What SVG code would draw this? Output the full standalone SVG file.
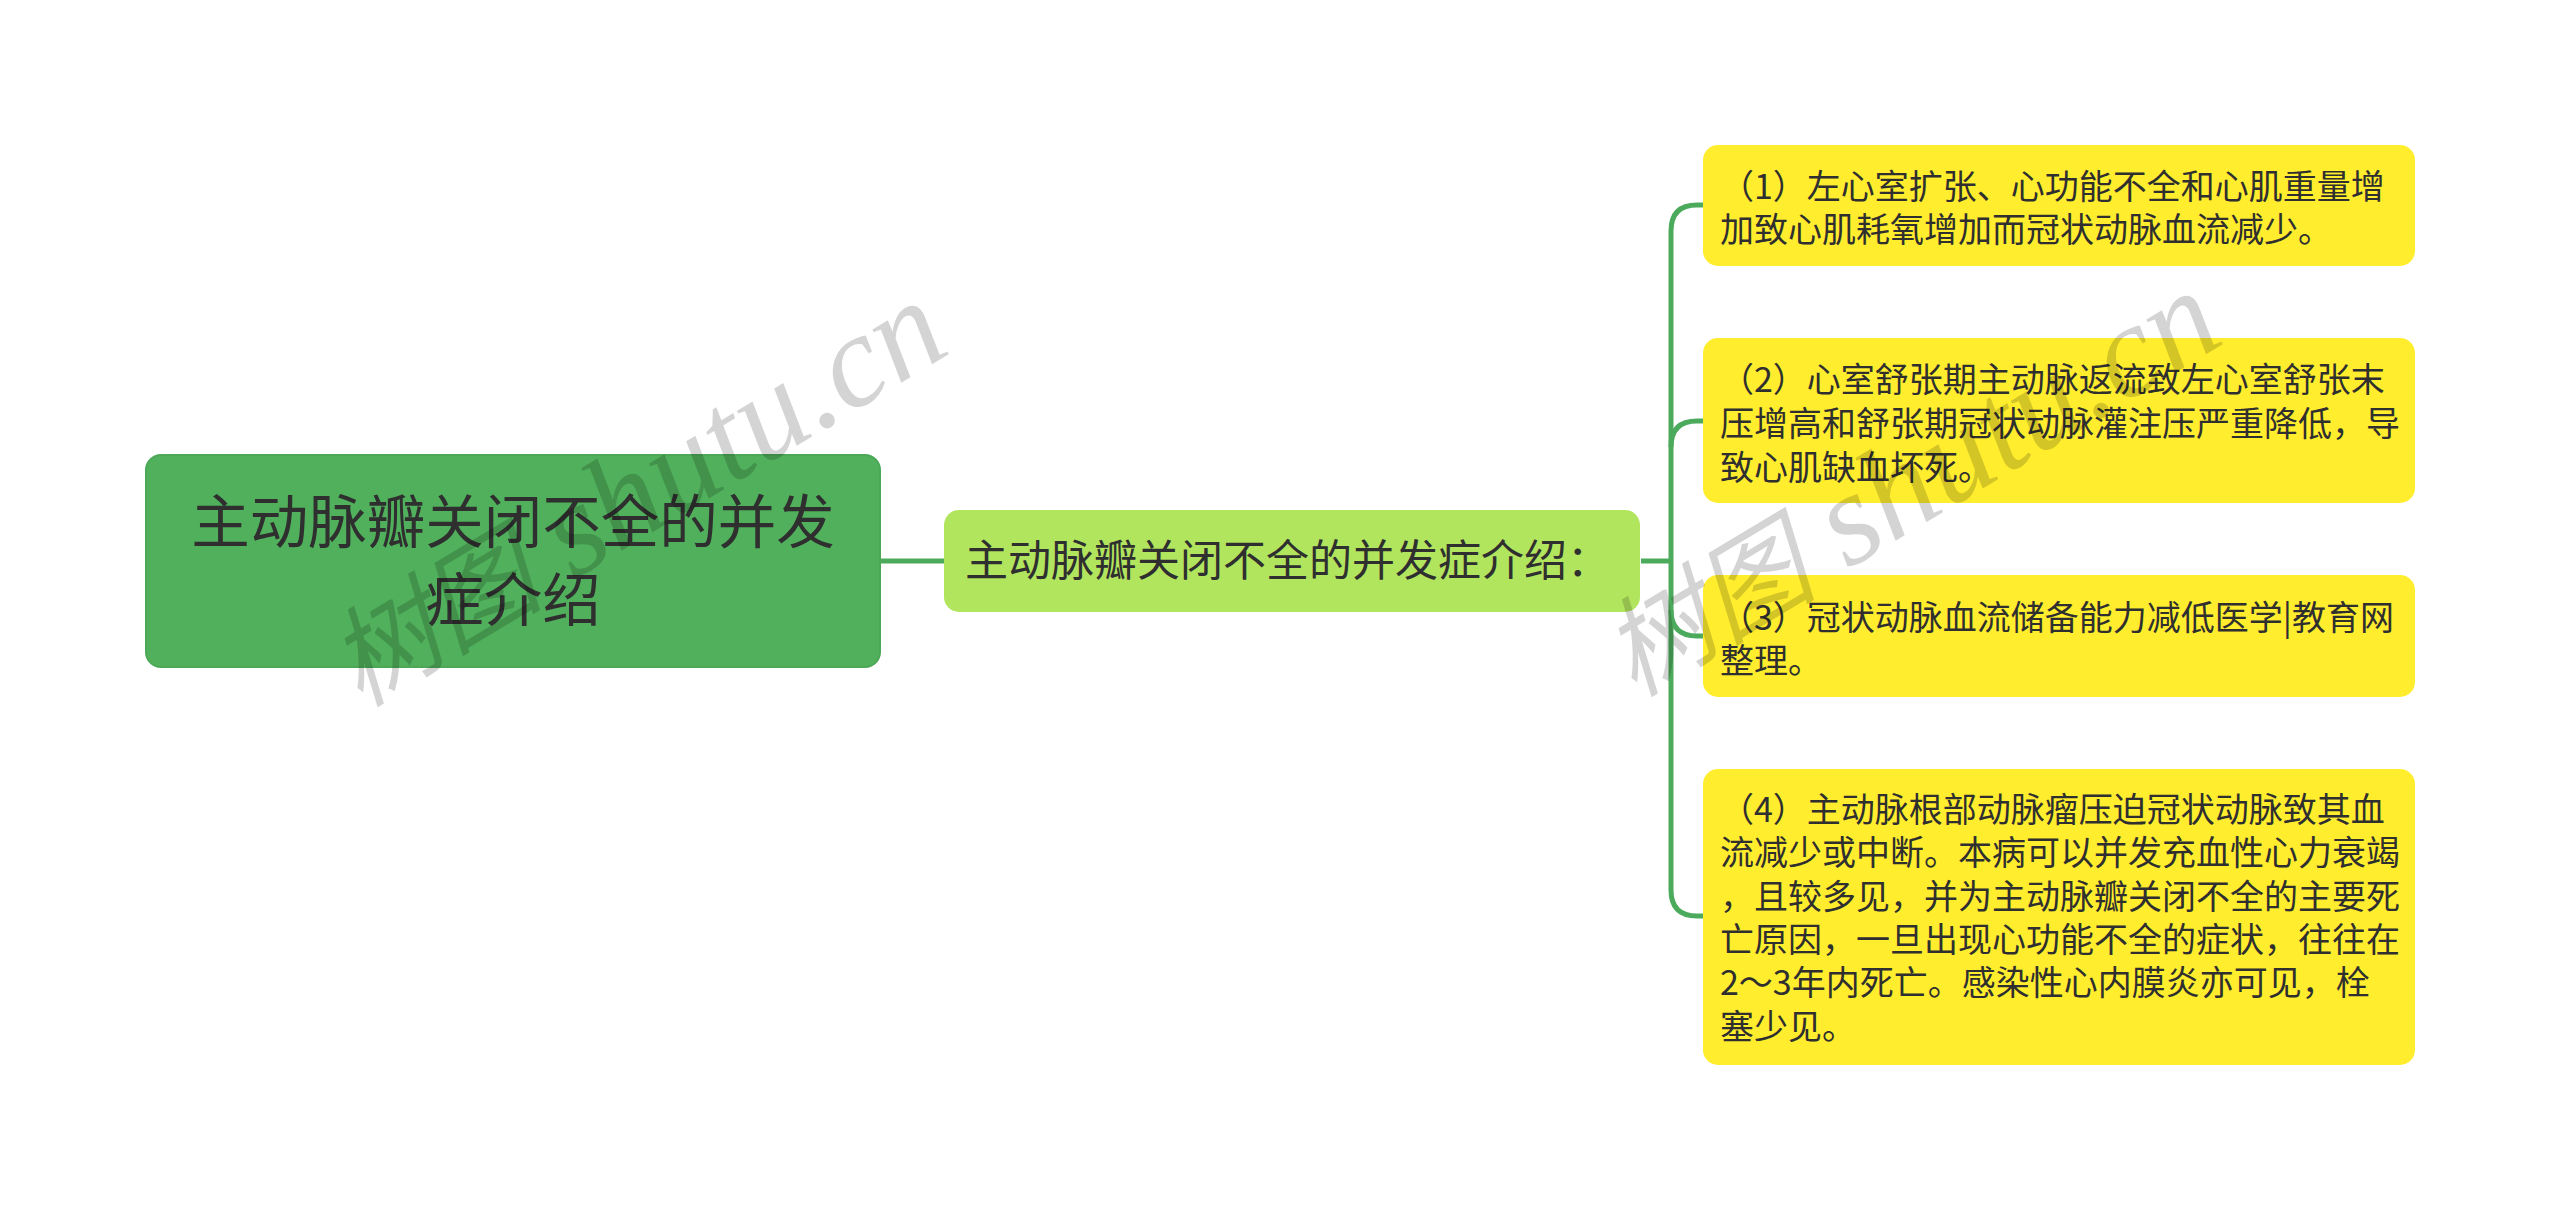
<svg xmlns="http://www.w3.org/2000/svg" width="2560" height="1210" viewBox="0 0 2560 1210">
<style>
text{font-family:"Noto Sans CJK SC","Noto Sans",sans-serif;fill:#2f2f2f}
.root{fill:#50B05C;stroke:#4CA857;stroke-width:2}
.sub{fill:#B2E55E}
.leaf{fill:#FFED2E}
.con{fill:none;stroke:#4CAA5C;stroke-width:5}
.t1{font-size:58.5px}
.t2{font-size:43px}
.t3{font-size:34px}
.wm{font-family:"Liberation Serif","Noto Sans CJK SC",serif;font-style:italic;font-size:132px;fill:#000;fill-opacity:.17}
.wm .cjk{font-size:108px}
</style>
<rect width="2560" height="1210" fill="#fff"/>
<g id="connectors">
<path class="con" d="M881 561H944"/>
<path class="con" d="M1641 561H1671"/>
<path class="con" d="M1703 205H1697Q1671 205 1671 231V890Q1671 916 1697 916H1703"/>
<path class="con" d="M1703 421H1697Q1671 421 1671 447"/>
<path class="con" d="M1703 636H1697Q1671 636 1671 610"/>
</g>
<g id="root"><rect class="root" x="146" y="455" width="734" height="212" rx="15"/>
<text class="t1" x="513" y="543" text-anchor="middle">主动脉瓣关闭不全的并发</text>
<text class="t1" x="513" y="621" text-anchor="middle">症介绍</text></g>
<g id="sub"><rect class="sub" x="944" y="510" width="696" height="102" rx="15"/>
<text class="t2" x="965" y="576">主动脉瓣关闭不全的并发症介绍：</text></g>
<g id="leaf1"><rect class="leaf" x="1703" y="145" width="712" height="121" rx="15"/>
<text class="t3" x="1720" y="199">（1）左心室扩张、心功能不全和心肌重量增</text>
<text class="t3" x="1720" y="242">加致心肌耗氧增加而冠状动脉血流减少。</text></g>
<g id="leaf2"><rect class="leaf" x="1703" y="338" width="712" height="165" rx="15"/>
<text class="t3" x="1720" y="392">（2）心室舒张期主动脉返流致左心室舒张末</text>
<text class="t3" x="1720" y="436">压增高和舒张期冠状动脉灌注压严重降低，导</text>
<text class="t3" x="1720" y="480">致心肌缺血坏死。</text></g>
<g id="leaf3"><rect class="leaf" x="1703" y="575" width="712" height="122" rx="15"/>
<text class="t3" x="1720" y="630">（3）冠状动脉血流储备能力减低医学|教育网</text>
<text class="t3" x="1720" y="673">整理。</text></g>
<g id="leaf4"><rect class="leaf" x="1703" y="769" width="712" height="296" rx="15"/>
<text class="t3" x="1720" y="822">（4）主动脉根部动脉瘤压迫冠状动脉致其血</text>
<text class="t3" x="1720" y="865">流减少或中断。本病可以并发充血性心力衰竭</text>
<text class="t3" x="1720" y="909">，且较多见，并为主动脉瓣关闭不全的主要死</text>
<text class="t3" x="1720" y="952">亡原因，一旦出现心功能不全的症状，往往在</text>
<text class="t3" x="1720" y="995">2～3年内死亡。感染性心内膜炎亦可见，栓</text>
<text class="t3" x="1720" y="1039">塞少见。</text></g>
<g id="watermarks">
<text class="wm" transform="translate(360 708) rotate(-31)"><tspan class="cjk">树图</tspan> shutu.cn</text>
<text class="wm" transform="translate(1634 698) rotate(-31)"><tspan class="cjk">树图</tspan> shutu.cn</text>
</g>
</svg>
